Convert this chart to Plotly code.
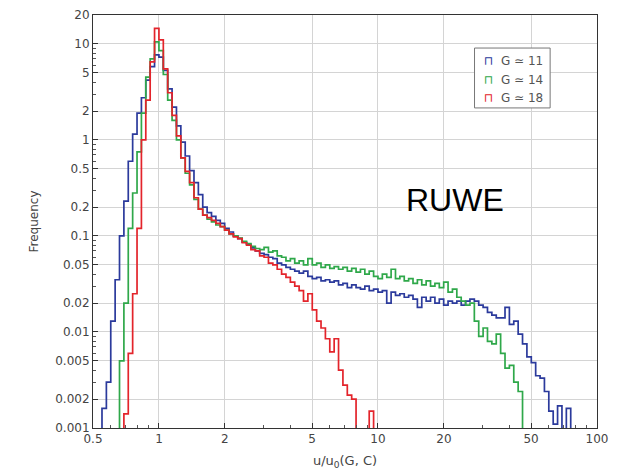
import numpy as np
import plotly.graph_objects as go

# ---- data ----
BIN_LOG_START = -0.26      # log10 of first bin edge
BIN_LOG_WIDTH = 0.02       # log10 bin width

blue_g11 = [0.0016, 0.003, 0.013, 0.035, 0.10, 0.23, 0.6, 1.15, 1.9, 2.75,
            4.2, 5.8, 7.7, 7.3, 5.3, 3.4, 2.2, 1.4, 0.95, 0.68,
            0.48, 0.36, 0.27, 0.20, 0.175, 0.16, 0.145, 0.135, 0.12, 0.11,
            0.10, 0.094, 0.086, 0.082, 0.075, 0.07, 0.066, 0.064, 0.06, 0.058,
            0.052, 0.05, 0.047, 0.045, 0.043, 0.041, 0.043, 0.038, 0.036, 0.037,
            0.034, 0.035, 0.033, 0.034, 0.031, 0.032, 0.029, 0.031, 0.029, 0.028,
            0.03, 0.027, 0.028, 0.026, 0.027, 0.02, 0.026, 0.024, 0.025, 0.023,
            0.024, 0.022, 0.018, 0.023, 0.021, 0.023, 0.02, 0.022, 0.019, 0.021,
            0.02, 0.021, 0.019, 0.021, 0.022, 0.021, 0.019, 0.018, 0.016, 0.015,
            0.014, 0.014, 0.018, 0.012, 0.013, 0.0095, 0.0075, 0.0055, 0.0048, 0.0035,
            0.0033, 0.0024, 0.0015, 0.0011, 0.0017, 0, 0.0016]

green_g14 = [0, 0, 0, 0, 0.005, 0.02, 0.12, 0.28, 0.75, 1.9,
             4.5, 7.0, 10.5, 8.5, 4.8, 2.6, 1.6, 1.0, 0.65, 0.45,
             0.34, 0.24, 0.19, 0.165, 0.15, 0.14, 0.13, 0.125, 0.115, 0.105,
             0.10, 0.095, 0.088, 0.083, 0.078, 0.074, 0.072, 0.076, 0.068, 0.07,
             0.062, 0.06, 0.055, 0.058, 0.052, 0.055, 0.05, 0.058, 0.05, 0.052,
             0.047, 0.05, 0.046, 0.048, 0.045, 0.047, 0.043, 0.046, 0.042, 0.045,
             0.04, 0.043, 0.038, 0.036, 0.04, 0.037, 0.045, 0.036, 0.038, 0.034,
             0.036, 0.032, 0.035, 0.031, 0.034, 0.03, 0.032, 0.029, 0.033, 0.026,
             0.028, 0.023, 0.021, 0.019, 0.02, 0.013, 0.009, 0.011, 0.008, 0.0075,
             0.0095, 0.006, 0.0042, 0.0045, 0.003, 0.0024, 0, 0, 0, 0,
             0, 0, 0, 0, 0, 0, 0]

red_g18 = [0, 0, 0, 0, 0, 0.0014, 0.006, 0.025, 0.12, 1.0,
           2.6, 6.5, 14.5, 11.0, 5.5, 3.1, 1.8, 1.1, 0.65, 0.47,
           0.36, 0.25, 0.19, 0.165, 0.155, 0.145, 0.135, 0.125, 0.115, 0.105,
           0.098, 0.094, 0.085, 0.08, 0.072, 0.07, 0.062, 0.06, 0.052, 0.05,
           0.045, 0.04, 0.037, 0.033, 0.03, 0.027, 0.021, 0.025, 0.017, 0.013,
           0.011, 0.0085, 0.0062, 0.0085, 0.004, 0.0028, 0.0022, 0.002, 0, 0,
           0, 0.0015, 0, 0, 0, 0, 0, 0, 0, 0,
           0, 0, 0, 0, 0, 0, 0, 0, 0, 0,
           0, 0, 0, 0, 0, 0, 0, 0, 0, 0,
           0, 0, 0, 0, 0, 0, 0, 0, 0, 0,
           0, 0, 0, 0, 0, 0, 0]

series_names = ["G ≃ 11", "G ≃ 14", "G ≃ 18"]
series_colors = ["#2b3a9c", "#2fa84a", "#e3242b"]
x_tickvals = [0.5, 1, 2, 5, 10, 20, 50, 100]
y_tickvals = [0.001, 0.002, 0.005, 0.01, 0.02, 0.05, 0.1, 0.2, 0.5, 1, 2, 5, 10, 20]
x_decades = [0.1, 1, 10]
y_decades = [0.001, 0.01, 0.1, 1, 10]
minor_mult = [2, 3, 4, 5, 6, 7, 8, 9]

FLOOR = 1e-6  # empty bins drawn below the axis bottom

fig = go.Figure()
for vals, name, col in zip([blue_g11, green_g14, red_g18], series_names, series_colors):
    n = len(vals)
    edges = [10 ** (BIN_LOG_START + BIN_LOG_WIDTH * k) for k in range(n + 1)]
    ys = [v if v > 0 else FLOOR for v in vals]
    xs = [edges[0]] + edges
    yy = [FLOOR] + ys + [FLOOR]
    fig.add_trace(go.Scatter(x=xs, y=yy, mode="lines", line=dict(color=col, width=1.7, shape="hv"),
                             name=name, showlegend=False))

x_minor = [d * m for d in x_decades for m in minor_mult]
y_minor = [d * m for d in y_decades for m in minor_mult]

axis_common = dict(type="log", showline=True, linecolor="#333", linewidth=1, mirror=True,
                   ticks="inside", ticklen=5, tickcolor="#333", automargin=False,
                   showgrid=True, gridcolor="#d4d4d4", gridwidth=1, zeroline=False,
                   tickfont=dict(family="DejaVu Sans", size=12, color="#444"))

fig.update_xaxes(range=[np.log10(0.5), 2], tickvals=x_tickvals, ticktext=[str(v) for v in x_tickvals],
                 minor=dict(ticks="inside", ticklen=3, tickcolor="#555", showgrid=False, tickvals=x_minor),
                 title=dict(text="u/u<sub>0</sub>(G, C)", font=dict(family="DejaVu Sans", size=13, color="#444"), standoff=10),
                 **axis_common)
fig.update_yaxes(range=[-3, np.log10(20)], tickvals=y_tickvals, ticktext=[f"{v:g}" for v in y_tickvals],
                 minor=dict(ticks="inside", ticklen=3, tickcolor="#555", showgrid=False, tickvals=y_minor),
                 title=dict(text="Frequency", font=dict(family="DejaVu Sans", size=12, color="#444"), standoff=14),
                 **axis_common)

# legend box
fig.add_shape(type="rect", xref="paper", yref="paper", x0=0.757, x1=0.907, y0=0.775, y1=0.92,
              line=dict(color="#777", width=1), fillcolor="white", layer="above")
for i, (name, col) in enumerate(zip(series_names, series_colors)):
    fig.add_annotation(xref="paper", yref="paper", x=0.772, y=0.888 - i * 0.045, xanchor="left", yanchor="middle",
                       text=f"<span style='color:{col}'>⊓</span>  {name}", showarrow=False,
                       font=dict(family="DejaVu Sans", size=12, color="#555"))

fig.add_annotation(xref="paper", yref="paper", x=(455 - 93) / 504, y=(428 - 200) / 413, text="RUWE",
                   showarrow=False, font=dict(family="Liberation Sans", size=32, color="black"),
                   xanchor="center", yanchor="middle")

fig.update_layout(width=618, height=475, margin=dict(l=93, r=21, t=15, b=47),
                  plot_bgcolor="white", paper_bgcolor="white", showlegend=False)

fig.write_html("out.html")
